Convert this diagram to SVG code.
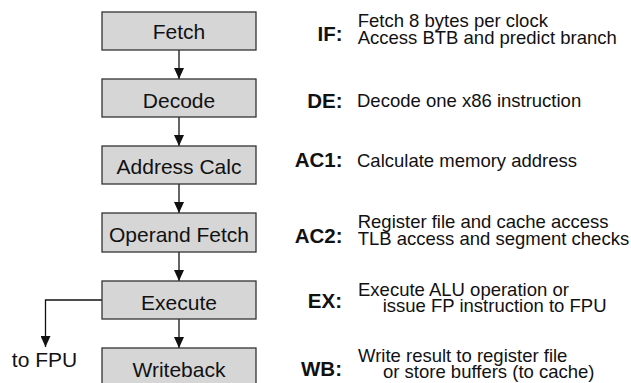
<svg xmlns="http://www.w3.org/2000/svg" width="631" height="383" viewBox="0 0 631 383">
<defs>
<marker id="ah" markerWidth="11" markerHeight="10" refX="11" refY="5" orient="auto" markerUnits="userSpaceOnUse">
<path d="M0,0 L11,5 L0,10 Z" fill="#111"/>
</marker>
<style>
.box{fill:#d6d6d6;stroke:#333;stroke-width:1.3}
.bt{font-family:"Liberation Sans",Arial,sans-serif;font-size:21px;fill:#111;text-anchor:middle}
.lbl{font-family:"Liberation Sans",Arial,sans-serif;font-size:20.5px;font-weight:bold;fill:#111;text-anchor:end}
.desc{font-family:"Liberation Sans",Arial,sans-serif;font-size:18.5px;fill:#111}
.conn{stroke:#111;stroke-width:1.3;fill:none}
</style>
</defs>
<rect width="631" height="383" fill="#fff"/>
<g id="connectors">
<line class="conn" x1="179" y1="50" x2="179" y2="79" marker-end="url(#ah)"/>
<line class="conn" x1="179" y1="117" x2="179" y2="146" marker-end="url(#ah)"/>
<line class="conn" x1="179" y1="184" x2="179" y2="213" marker-end="url(#ah)"/>
<line class="conn" x1="179" y1="252" x2="179" y2="281" marker-end="url(#ah)"/>
<line class="conn" x1="179" y1="319" x2="179" y2="348" marker-end="url(#ah)"/>
<polyline class="conn" points="102,300 45.5,300 45.5,347" marker-end="url(#ah)"/>
</g>
<g id="fetch"><rect class="box" x="102" y="12" width="154" height="38"/><text class="bt" x="179" y="38.5">Fetch</text></g>
<g id="decode"><rect class="box" x="102" y="79" width="154" height="38"/><text class="bt" x="179" y="108">Decode</text></g>
<g id="addresscalc"><rect class="box" x="102" y="146" width="154" height="38"/><text class="bt" x="179" y="174.3">Address Calc</text></g>
<g id="operandfetch"><rect class="box" x="102" y="213" width="154" height="39"/><text class="bt" x="179" y="241.5">Operand Fetch</text></g>
<g id="execute"><rect class="box" x="102" y="281" width="154" height="38"/><text class="bt" x="179" y="309.7">Execute</text></g>
<g id="writeback"><rect class="box" x="102" y="348" width="154" height="38"/><text class="bt" x="179" y="376.7">Writeback</text></g>
<g id="tofpu"><text class="bt" x="44.5" y="367.3">to FPU</text></g>
<g id="stage-if"><text class="lbl" x="342.5" y="40.7">IF:</text><text class="desc"><tspan x="357.7" y="27">Fetch 8 bytes per clock</tspan><tspan x="357.7" y="44">Access BTB and predict branch</tspan></text></g>
<g id="stage-de"><text class="lbl" x="342.5" y="107.7">DE:</text><text class="desc" x="357" y="107">Decode one x86 instruction</text></g>
<g id="stage-ac1"><text class="lbl" x="342.5" y="166.7">AC1:</text><text class="desc" x="357" y="166.7">Calculate memory address</text></g>
<g id="stage-ac2"><text class="lbl" x="342.5" y="243">AC2:</text><text class="desc"><tspan x="357.7" y="228">Register file and cache access</tspan><tspan x="357.7" y="245">TLB access and segment checks</tspan></text></g>
<g id="stage-ex"><text class="lbl" x="342" y="308.3">EX:</text><text class="desc"><tspan x="358" y="296">Execute ALU operation or</tspan><tspan x="382.7" y="312.3">issue FP instruction to FPU</tspan></text></g>
<g id="stage-wb"><text class="lbl" x="342" y="376">WB:</text><text class="desc"><tspan x="358" y="362">Write result to register file</tspan><tspan x="383" y="378">or store buffers (to cache)</tspan></text></g>
</svg>
